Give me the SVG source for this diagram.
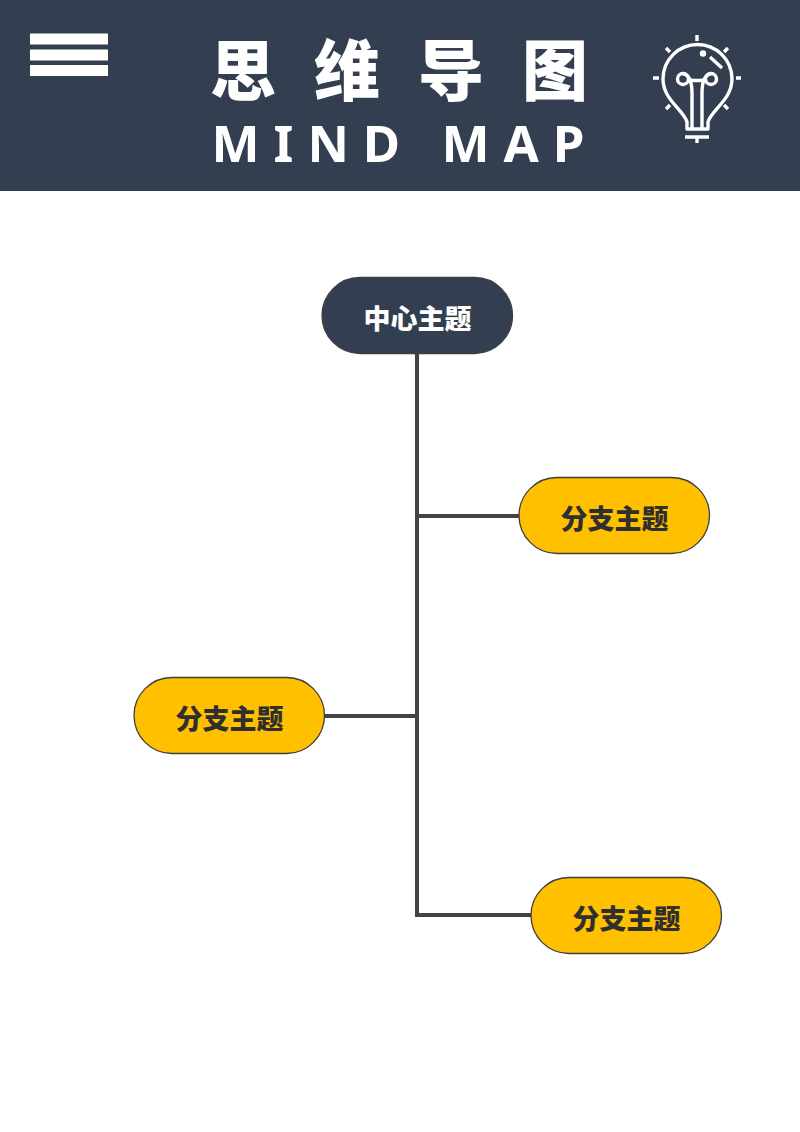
<svg xmlns="http://www.w3.org/2000/svg" width="800" height="1132" viewBox="0 0 800 1132">
<style>
text{font-family:"Noto Sans CJK SC","Noto Sans",sans-serif;font-weight:900;text-anchor:middle}
.node{stroke:#3d3d3d;stroke-width:1.3}
.c{fill:#fff;font-size:27px}
.b{fill:#2f2f2f;font-size:27px}
.link{fill:none;stroke:#434343;stroke-width:4}
.ic{fill:none;stroke:#fff;stroke-width:3.400;stroke-linecap:butt;stroke-linejoin:round}
</style>
<rect id="banner" width="800" height="191" fill="#333f50"/>
<g id="menu" fill="#fff"><rect x="30" y="33.500" width="78" height="11"/><rect x="30" y="49.500" width="78" height="11"/><rect x="30" y="65" width="78" height="11"/></g>
<text x="399" y="95" fill="#fff" font-size="66" letter-spacing="38" dx="19" style="font-weight:900">思维导图</text>
<text x="398" y="162" fill="#fff" font-size="51" letter-spacing="14" dx="7" style="font-family:'Noto Sans',sans-serif;font-weight:700">MIND MAP</text>
<g id="bulb" class="ic">
<path d="M687 129V122C684 110 663 100 663 79A34.500 34.500 0 0 1 732 79C732 100 711 110 708 122V129Z"/>
<circle cx="683" cy="79" r="5.500"/><circle cx="711" cy="79" r="5.500"/>
<path d="M692 129V93C692 84 690 75 683 73.500M702 129V93C702 84 704 75 711 73.500M688 79C691 81 703 81 706 79"/>
<path d="M685 137H709M697 137V143M697 35V41M653 78H659M736 78H741M666 48L670 52M728 48L724 52M666 109L670 105M728 109L724 105M710 57L722 68"/>
<circle cx="703" cy="53.500" r="1.500"/>
</g>
<g id="connectors">
<path class="link" d="M417 354V915H531M417 516H519M325 716H417"/>
</g>
<g id="center"><rect class="node" x="322" y="277.500" width="190.500" height="76" rx="38" fill="#333f50"/><text class="c" x="417.500" y="328.500">中心主题</text></g>
<g id="branch1"><rect class="node" x="519" y="477.500" width="190.500" height="76" rx="38" fill="#ffc000"/><text class="b" x="614.500" y="528.500">分支主题</text></g>
<g id="branch2"><rect class="node" x="134" y="677.500" width="190.500" height="76" rx="38" fill="#ffc000"/><text class="b" x="229.500" y="728.500">分支主题</text></g>
<g id="branch3"><rect class="node" x="531" y="877.500" width="190.500" height="76" rx="38" fill="#ffc000"/><text class="b" x="626.500" y="928.500">分支主题</text></g>
</svg>
